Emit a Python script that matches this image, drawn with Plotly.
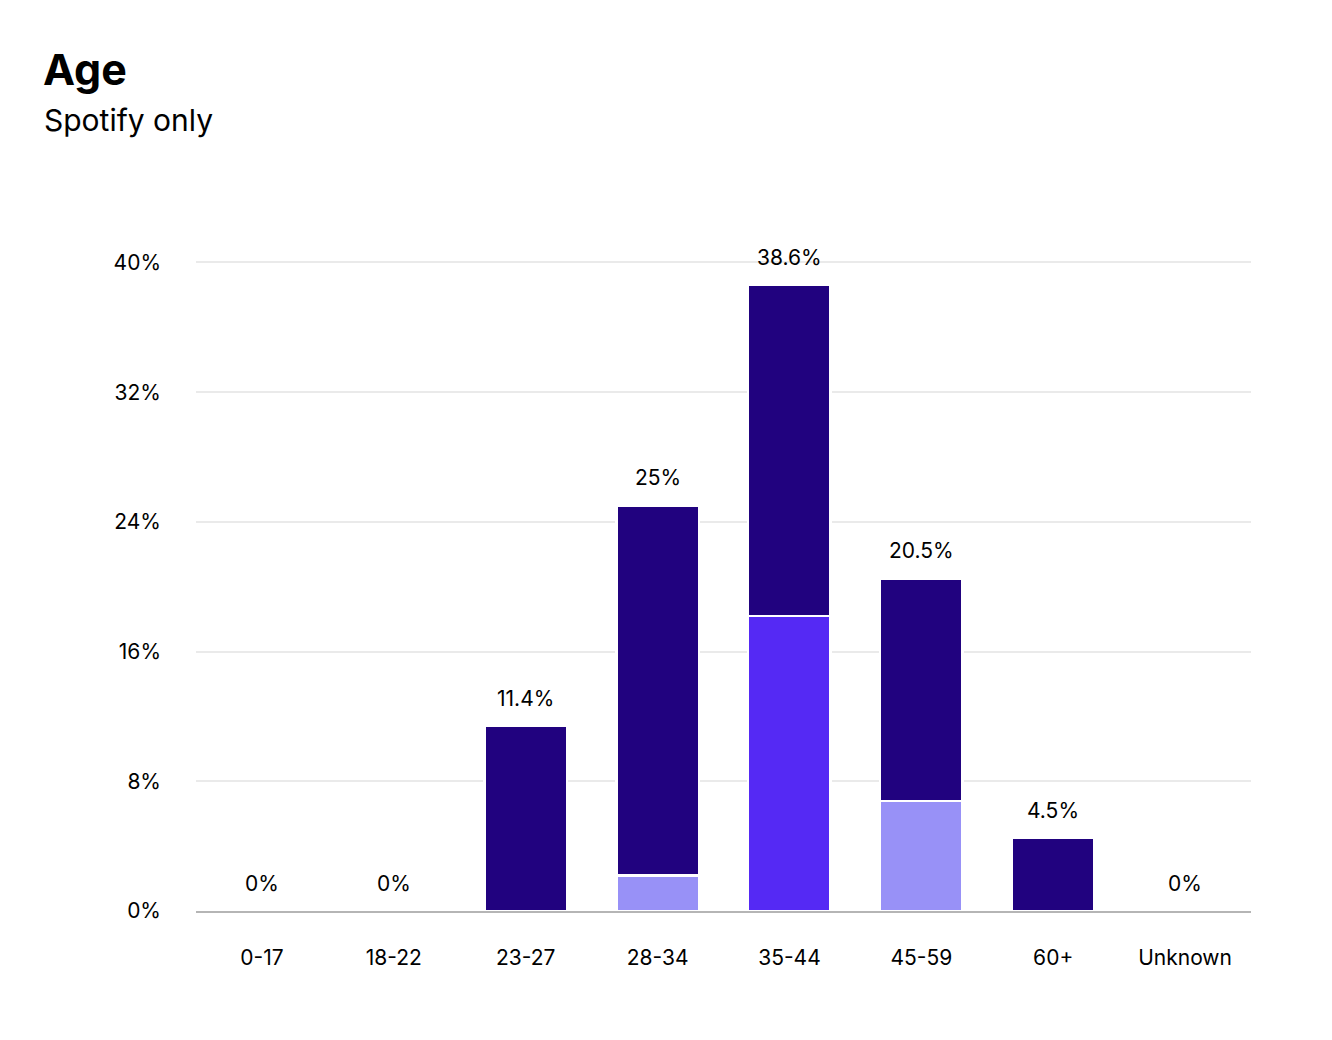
import plotly.graph_objects as go

categories = ["0-17", "18-22", "23-27", "28-34", "35-44", "45-59", "60+", "Unknown"]
light_vals = [None, None, None, 2.2, None, 6.8, None, None]
bright_vals = [None, None, None, None, 18.2, None, None, None]
dark_vals = [None, None, 11.4, 22.8, 20.4, 13.7, 4.5, None]
totals = [0, 0, 11.4, 25, 38.6, 20.5, 4.5, 0]
y_ticks = [0, 8, 16, 24, 32, 40]

FONT = "Inter"
line = dict(color="white", width=2.5)

fig = go.Figure()
fig.add_bar(x=categories, y=light_vals, marker=dict(color="#9891F7", line=line), showlegend=False, hoverinfo="skip")
fig.add_bar(x=categories, y=bright_vals, marker=dict(color="#5529F4", line=line), showlegend=False, hoverinfo="skip")
fig.add_bar(x=categories, y=dark_vals, marker=dict(color="#21027F", line=line), showlegend=False, hoverinfo="skip")

annotations = []
for c, t in zip(categories, totals):
    annotations.append(dict(x=c, y=t, xref="x", yref="y", text=f"{t:g}%", showarrow=False,
                            yshift=28, font=dict(family=FONT, size=21, color="#000")))

H = 911 - 255.5
annotations.append(dict(x=(41 - 196) / 1055.0, y=(911 - 68) / H, xref="paper", yref="paper",
                        xanchor="left", yanchor="middle", text="<b>Age</b>", showarrow=False,
                        font=dict(family=FONT, size=43, color="#000")))
annotations.append(dict(x=(42 - 196) / 1055.0, y=(911 - 119) / H, xref="paper", yref="paper",
                        xanchor="left", yanchor="middle", text="Spotify only", showarrow=False,
                        font=dict(family=FONT, size=30, color="#000")))

fig.update_layout(
    barmode="stack",
    bargap=0.375,
    width=1332, height=1040,
    margin=dict(l=196, r=81, t=255.5, b=129, autoexpand=False),
    plot_bgcolor="white", paper_bgcolor="white",
    font=dict(family=FONT, size=21, color="#000"),
    annotations=annotations,
    xaxis=dict(showgrid=False, showline=True, linecolor="#B5B5B5", linewidth=2,
               ticks="", ticklabelstandoff=27, tickfont=dict(size=21)),
    yaxis=dict(range=[0, 40.4], tickvals=y_ticks, ticktext=[f"{v}%" for v in y_ticks],
               showgrid=True, gridcolor="#EAEAEA", gridwidth=2, zeroline=False,
               showline=False, ticks="", ticklabelstandoff=34, tickfont=dict(size=21)),
)

fig.write_html("out.html")
